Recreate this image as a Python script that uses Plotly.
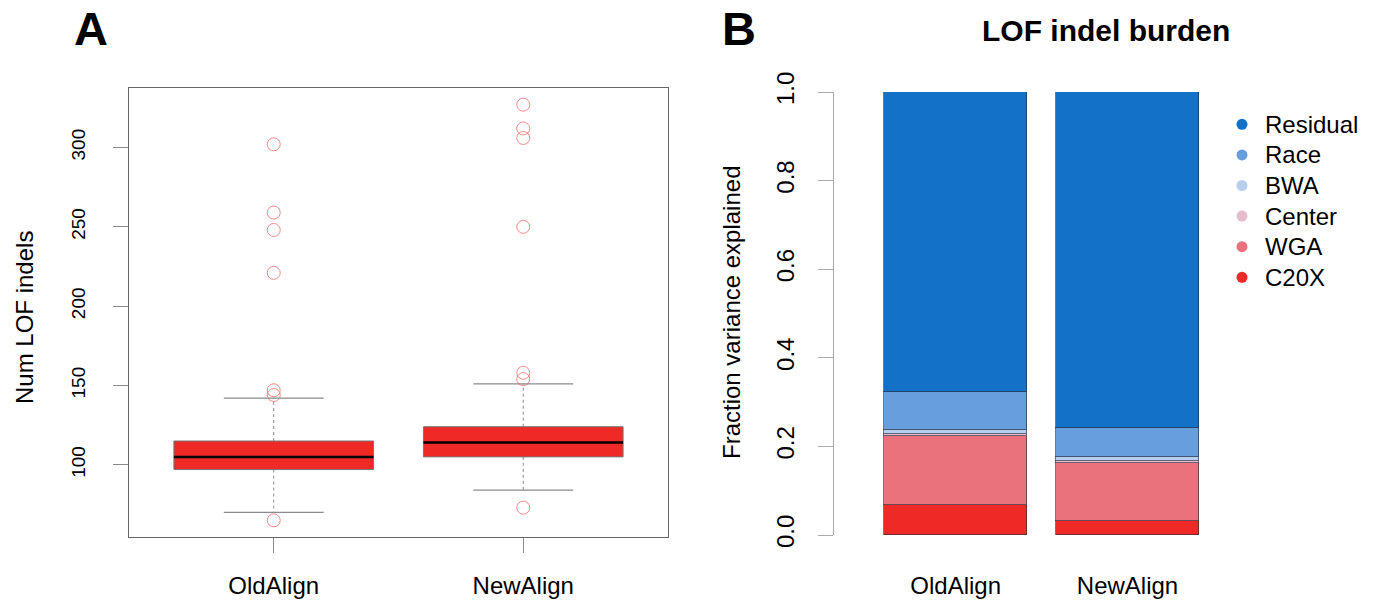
import plotly.graph_objects as go

W, H = 1378, 603
FONT = "Liberation Sans, Arial, Helvetica, sans-serif"

# ---- Panel A: LOF indel counts per alignment pipeline ----
groups = ["OldAlign", "NewAlign"]
q1 = [97, 105]
median = [105, 114]
q3 = [115, 124]
whisker_lo = [70, 84]
whisker_hi = [142, 151]
outliers = [
    [302, 259, 248, 221, 147, 144, 65],
    [327, 312, 306, 250, 158, 154, 73],
]

# ---- Panel B: variance decomposition of LOF indel burden ----
components = ["C20X", "WGA", "Center", "BWA", "Race", "Residual"]
frac_old = [0.067, 0.157, 0.004, 0.008, 0.087, 0.677]
frac_new = [0.032, 0.130, 0.006, 0.007, 0.067, 0.758]
comp_colors = ["#EE2926", "#E9727C", "#E6BCCE", "#B8CEEE", "#669EDE", "#1471C8"]
bar_pos = [0.7, 1.9]

BOX_RED = "#EE2926"
GREY = "#8a8a8a"


def px_x(p):
    return p / W


def px_y(p):
    return 1 - p / H


fig = go.Figure()

# boxplots
for i, name in enumerate(groups):
    c = i + 1
    # dashed whiskers
    fig.add_trace(go.Scatter(x=[c, c], y=[q3[i], whisker_hi[i]], mode="lines",
                             line=dict(color=GREY, width=1, dash="3px,3px"),
                             xaxis="x", yaxis="y", showlegend=False, hoverinfo="skip"))
    fig.add_trace(go.Scatter(x=[c, c], y=[q1[i], whisker_lo[i]], mode="lines",
                             line=dict(color=GREY, width=1, dash="3px,3px"),
                             xaxis="x", yaxis="y", showlegend=False, hoverinfo="skip"))
    # whisker caps
    for v in (whisker_lo[i], whisker_hi[i]):
        fig.add_trace(go.Scatter(x=[c - 0.2, c + 0.2], y=[v, v], mode="lines",
                                 line=dict(color=GREY, width=1.2),
                                 xaxis="x", yaxis="y", showlegend=False, hoverinfo="skip"))
    # box
    fig.add_trace(go.Scatter(x=[c - 0.4, c + 0.4, c + 0.4, c - 0.4, c - 0.4],
                             y=[q1[i], q1[i], q3[i], q3[i], q1[i]],
                             mode="lines", fill="toself", fillcolor=BOX_RED,
                             line=dict(color="#777777", width=1),
                             xaxis="x", yaxis="y", showlegend=False, name=name))
    # median
    fig.add_trace(go.Scatter(x=[c - 0.4, c + 0.4], y=[median[i], median[i]], mode="lines",
                             line=dict(color="black", width=2.5),
                             xaxis="x", yaxis="y", showlegend=False, hoverinfo="skip"))
    # outliers
    fig.add_trace(go.Scatter(x=[c] * len(outliers[i]), y=outliers[i], mode="markers",
                             marker=dict(symbol="circle-open", size=13,
                                         color="rgba(240,90,90,0.7)", line=dict(width=1)),
                             xaxis="x", yaxis="y", showlegend=False))

# stacked bars
for k, comp in enumerate(components):
    fig.add_trace(go.Bar(x=bar_pos, y=[frac_old[k], frac_new[k]], width=1.0,
                         marker=dict(color=comp_colors[k],
                                     line=dict(color="rgba(45,45,60,0.65)", width=1)),
                         name=comp, xaxis="x2", yaxis="y2", showlegend=False))

# legend drawn as dots plus labels, top entry = last component
legend_items = components[::-1]
legend_colors = comp_colors[::-1]
fig.add_trace(go.Scatter(x=[10] * len(legend_items), y=list(range(len(legend_items))),
                         mode="markers", marker=dict(color=legend_colors, size=11),
                         xaxis="x3", yaxis="y3", showlegend=False, hoverinfo="skip"))
annotations = []
for j, lab in enumerate(legend_items):
    annotations.append(dict(x=31, y=j, xref="x3", yref="y3", text=lab, showarrow=False,
                            xanchor="left", yanchor="middle",
                            font=dict(family=FONT, size=24, color="black")))

# panel letters, title and axis titles
annotations += [
    dict(x=px_x(72), y=px_y(28), xref="paper", yref="paper", text="<b>A</b>",
         showarrow=False, xanchor="left", yanchor="middle",
         font=dict(family=FONT, size=47, color="black")),
    dict(x=px_x(720), y=px_y(28), xref="paper", yref="paper", text="<b>B</b>",
         showarrow=False, xanchor="left", yanchor="middle",
         font=dict(family=FONT, size=47, color="black")),
    dict(x=px_x(1106), y=px_y(31), xref="paper", yref="paper", text="<b>LOF indel burden</b>",
         showarrow=False, xanchor="center", yanchor="middle",
         font=dict(family=FONT, size=30, color="black")),
    dict(x=px_x(24), y=px_y(318), xref="paper", yref="paper", text="Num LOF indels",
         showarrow=False, textangle=-90, xanchor="center", yanchor="middle",
         font=dict(family=FONT, size=24, color="black")),
    dict(x=px_x(731), y=px_y(312), xref="paper", yref="paper", text="Fraction variance explained",
         showarrow=False, textangle=-90, xanchor="center", yanchor="middle",
         font=dict(family=FONT, size=24, color="black")),
]

fig.update_layout(
    width=W, height=H,
    margin=dict(l=0, r=0, t=0, b=0, autoexpand=False),
    paper_bgcolor="white", plot_bgcolor="white",
    barmode="stack", bargap=0,
    font=dict(family=FONT, color="black"),
    annotations=annotations,
    xaxis=dict(domain=[px_x(129), px_x(668)], range=[0.42, 2.58], anchor="y",
               tickvals=[1, 2], ticktext=groups, ticks="outside", ticklen=15,
               tickcolor=GREY, showline=True, linecolor="#666666", mirror=True,
               showgrid=False, zeroline=False, tickfont=dict(size=24),
               ticklabelstandoff=12, automargin=False),
    yaxis=dict(domain=[px_y(537), px_y(88)], range=[54.5, 337.5], anchor="x",
               tickvals=[100, 150, 200, 250, 300], ticks="outside", ticklen=15,
               tickcolor=GREY, showline=True, linecolor="#666666", mirror=True,
               showgrid=False, zeroline=False, tickangle=-90, tickfont=dict(size=19),
               ticklabelstandoff=20, automargin=False),
    xaxis2=dict(domain=[px_x(834), px_x(1212)], range=[-0.15, 2.49], anchor="y2",
                tickvals=bar_pos, ticktext=groups, ticks="", showline=False,
                showgrid=False, zeroline=False, tickfont=dict(size=24),
                ticklabelstandoff=34, automargin=False),
    yaxis2=dict(domain=[px_y(535), px_y(92)], range=[0, 1], anchor="x2",
                tickvals=[0, 0.2, 0.4, 0.6, 0.8, 1.0],
                ticktext=["0.0", "0.2", "0.4", "0.6", "0.8", "1.0"],
                ticks="outside", ticklen=15, tickcolor="#aaaaaa",
                showline=True, linecolor="#aaaaaa", showgrid=False, zeroline=False,
                tickangle=-90, tickfont=dict(size=24), ticklabelstandoff=14,
                automargin=False),
    xaxis3=dict(domain=[px_x(1232), 1.0], range=[0, 146], visible=False,
                anchor="y3", automargin=False),
    yaxis3=dict(domain=[px_y(292.6), px_y(109)], range=[5.5, -0.5], visible=False,
                anchor="x3", automargin=False),
)

fig.write_html("out.html")
